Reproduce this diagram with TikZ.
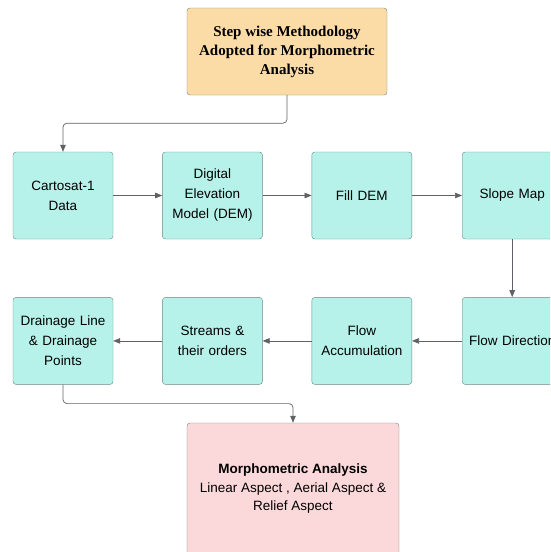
\documentclass[tikz,border=0pt]{standalone}
\usepackage{fontspec}
\setmainfont{Liberation Serif}
\setsansfont{Liberation Sans}
\usetikzlibrary{positioning, arrows.meta}
\definecolor{boxcyan}{HTML}{B6F2EA}
\definecolor{boxline}{HTML}{6F8583}
\definecolor{titlefill}{HTML}{FCDCA6}
\definecolor{resultfill}{HTML}{FBD9DA}
\definecolor{linkgray}{HTML}{5E6266}
\tikzstyle{stepbox}=[draw=boxline, fill=boxcyan, rounded corners=3pt, minimum width=100pt, minimum height=87pt, text width=92pt, inner sep=0pt, align=center, font=\sffamily\fontsize{13.5}{20}\selectfont]
\tikzstyle{link}=[draw=linkgray, line width=0.7pt, rounded corners=4pt, -{Triangle[length=7pt,width=5.5pt]}]

\begin{document}
\begin{tikzpicture}
		\useasboundingbox (0,0) rectangle (550pt,-552pt);
		\clip (0,0) rectangle (550pt,-552pt);
		\node(title) [draw=boxline, fill=titlefill, rounded corners=3pt, minimum width=200pt, minimum height=87pt, align=center, font=\bfseries\fontsize{15}{19}\selectfont] at (287pt,-51.5pt) {Step wise Methodology\\Adopted for Morphometric\\Analysis};
		
		\node(carto) [stepbox] at (63pt,-195.5pt) {Cartosat-1\\Data};
		\node(dem) [stepbox, right=49pt of carto] {Digital\\Elevation\\Model (DEM)};
		\node(fill) [stepbox, right=49pt of dem] {Fill DEM};
		\node(slope) [stepbox, right=50pt of fill] {Slope Map};
		
		\node(flowdir) [stepbox, below=58pt of slope] {Flow Direction};
		\node(acc) [stepbox, left=50pt of flowdir] {Flow\\Accumulation};
		\node(streams) [stepbox, left=49pt of acc] {Streams \&\\their orders};
		\node(drain) [stepbox, left=49pt of streams] {Drainage Line\\\& Drainage\\Points};
		
		\node(result) [draw=boxline, fill=resultfill, rounded corners=3pt, minimum width=212pt, minimum height=132pt, align=center, font=\sffamily\fontsize{13.5}{18.5}\selectfont] at (293pt,-489pt) {\textbf{Morphometric Analysis}\\Linear Aspect , Aerial Aspect \&\\Relief Aspect};
		
		\draw[link] (title.south) -- ++(0,-28pt) -| (carto.north);
		\draw[link] (carto) -- (dem);
		\draw[link] (dem) -- (fill);
		\draw[link] (fill) -- (slope);
		\draw[link] (slope) -- (flowdir);
		\draw[link] (flowdir) -- (acc);
		\draw[link] (acc) -- (streams);
		\draw[link] (streams) -- (drain);
		\draw[link] (drain.south) -- ++(0,-19pt) -| (result.north);
\end{tikzpicture}
\end{document}
